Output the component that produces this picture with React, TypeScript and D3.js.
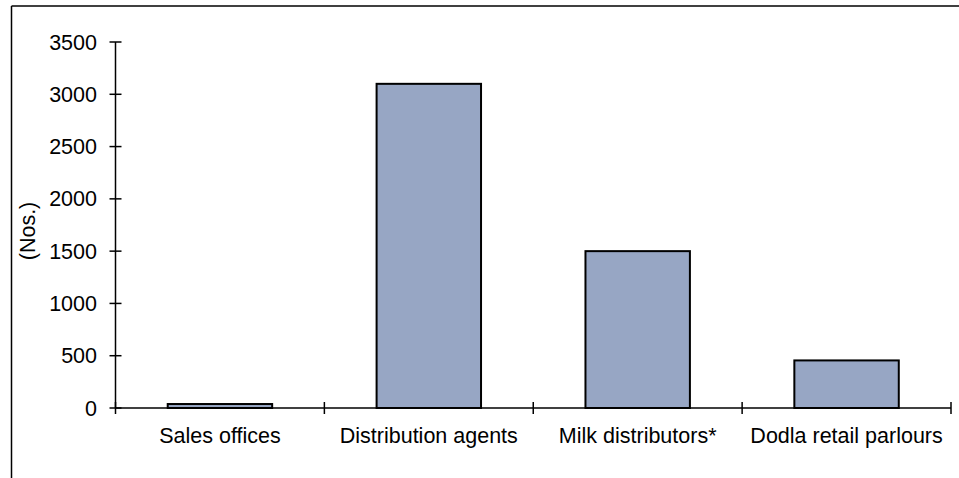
import React from "react";
import * as d3 from "d3";

const categories = ["Sales offices", "Distribution agents", "Milk distributors*", "Dodla retail parlours"];
const values = [38, 3100, 1500, 455];
const yTicks = [0, 500, 1000, 1500, 2000, 2500, 3000, 3500];

const W = 959;
const H = 478;
const plot = { left: 115.5, right: 951, top: 42, bottom: 408 };
const font = "Arial, 'Liberation Sans', sans-serif";
const fs = 21.5;

export default function App() {
  const x = d3.scaleBand<string>().domain(categories).range([plot.left, plot.right]).paddingInner(0).paddingOuter(0);
  const y = d3.scaleLinear().domain([0, 3500]).range([plot.bottom, plot.top]);
  const bw = x.bandwidth() * 0.5;
  const edges = [...categories.map((c) => x(c)!), plot.right];

  return (
    <svg width={W} height={H} style={{ position: "absolute", left: 0, top: 0, display: "block" }}>
      <rect width={W} height={H} fill="#fff" />
      {/* chart frame: top and left edges */}
      <line x1={11.5} y1={6} x2={W} y2={6} stroke="#000" strokeWidth={1.5} />
      <line x1={11.5} y1={6} x2={11.5} y2={H} stroke="#000" strokeWidth={1.5} />

      {categories.map((c, i) => (
        <rect
          key={c}
          x={x(c)! + (x.bandwidth() - bw) / 2}
          y={y(values[i])}
          width={bw}
          height={y(0) - y(values[i])}
          fill="#97A6C4"
          stroke="#000"
          strokeWidth={2}
        />
      ))}

      {/* y axis */}
      <line x1={plot.left} y1={plot.top} x2={plot.left} y2={plot.bottom} stroke="#000" strokeWidth={1.5} />
      {yTicks.map((t) => (
        <g key={t}>
          <line x1={plot.left - 6} x2={plot.left + 6} y1={y(t)} y2={y(t)} stroke="#000" strokeWidth={1.5} />
          <text x={97} y={y(t)} dy="0.35em" textAnchor="end" fontFamily={font} fontSize={fs} fill="#000">
            {t}
          </text>
        </g>
      ))}

      {/* x axis */}
      <line x1={plot.left} y1={plot.bottom} x2={plot.right} y2={plot.bottom} stroke="#000" strokeWidth={1.5} />
      {edges.map((e, i) => (
        <line key={i} x1={e} x2={e} y1={plot.bottom - 6} y2={plot.bottom + 6} stroke="#000" strokeWidth={1.5} />
      ))}
      {categories.map((c) => (
        <text key={c} x={x(c)! + x.bandwidth() / 2} y={443} textAnchor="middle" fontFamily={font} fontSize={fs} fill="#000">
          {c}
        </text>
      ))}

      <text
        transform={`translate(27, ${(plot.top + plot.bottom) / 2 + 6}) rotate(-90)`}
        textAnchor="middle"
        dy="0.35em"
        fontFamily={font}
        fontSize={fs}
        fill="#000"
      >
        (Nos.)
      </text>
    </svg>
  );
}
